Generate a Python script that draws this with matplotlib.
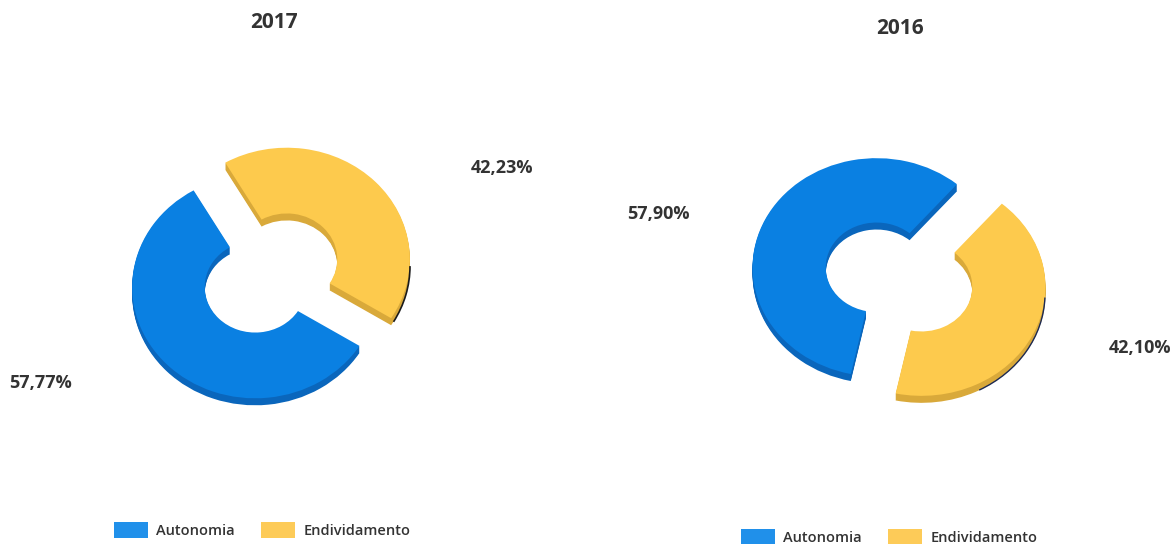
"""Exploded 3D-look donuts: Autonomia vs Endividamento"""
import matplotlib

matplotlib.use("Agg")
import matplotlib.pyplot as plt
from matplotlib.patches import Arc

WIDTH_PX = 1174
HEIGHT_PX = 544

categories = ["Autonomia", "Endividamento"]
years = ["2017", "2016"]
values_2017 = [57.77, 42.23]
values_2016 = [57.90, 42.10]
labels_2017 = ["57,77%", "42,23%"]
labels_2016 = ["57,90%", "42,10%"]

TOP_COLORS = ["#0a80e2", "#fdca4d"]
SIDE_COLORS = ["#0a66bc", "#d9a93a"]
LEGEND_COLORS = ["#2090ea", "#fdcb58"]
TEXT_COLOR = "#333333"

plt.rcParams["font.family"] = ["Open Sans", "DejaVu Sans"]


def fig_xy(x_px, y_px):
    """Pixel position in the picture to figure fraction."""
    return x_px / WIDTH_PX, 1 - y_px / HEIGHT_PX


def draw_donut(fig, values, centre, radius, squash, startangle, explode, depth):
    """Draws one tilted donut on a full-figure axes, returns the axes."""
    cx, cy = centre
    ax = fig.add_axes([0, 0, 1, 1])
    ax.patch.set_alpha(0)

    # stacked copies going down make the side walls
    for offset in range(depth, -1, -1):
        wedges, _ = ax.pie(
            values,
            center=(0, -offset / squash),
            radius=radius,
            startangle=startangle,
            counterclock=False,
            explode=[explode, explode],
            colors=TOP_COLORS if offset == 0 else SIDE_COLORS,
            wedgeprops={"width": radius * 0.59, "linewidth": 0},
        )

    ax.set_aspect("auto")
    ax.set_xlim(-cx, WIDTH_PX - cx)
    ax.set_ylim((cy - HEIGHT_PX) / squash, cy / squash)
    ax.axis("off")
    return ax, wedges


def add_legend(fig, wedges, x_px, y_px):
    legend = fig.legend(
        wedges,
        categories,
        loc="center",
        bbox_to_anchor=fig_xy(x_px, y_px),
        ncols=2,
        frameon=False,
        fontsize=10.5,
        handlelength=2.35,
        handleheight=1.3,
        handletextpad=0.55,
        columnspacing=1.8,
        borderpad=0,
    )
    for text in legend.get_texts():
        text.set_color(TEXT_COLOR)
        text.set_fontweight("semibold")
    for handle, color in zip(legend.legend_handles, LEGEND_COLORS):
        handle.set_facecolor(color)


def add_text(fig, x_px, y_px, string, size):
    x_frac, y_frac = fig_xy(x_px, y_px)
    fig.text(
        x_frac,
        y_frac,
        string,
        ha="center",
        va="center",
        fontsize=size,
        fontweight="bold",
        color=TEXT_COLOR,
    )


fig = plt.figure(figsize=(WIDTH_PX / 100, HEIGHT_PX / 100), dpi=100, facecolor="white")

# 2017
ax_left, wedges_left = draw_donut(
    fig, values_2017, (271, 273), 123, 0.906, -32, 22, 7
)
ax_left.add_patch(
    Arc((16, 7.6), 2 * 123, 2 * 123, theta1=-30, theta2=0, color="#1a1a1a", lw=1.2)
)
add_text(fig, 274, 22, years[0], 15)
add_text(fig, 41, 383, labels_2017[0], 13)
add_text(fig, 502, 168, labels_2017[1], 13)
add_legend(fig, wedges_left, 262, 530)

# 2016
ax_right, wedges_right = draw_donut(
    fig, values_2016, (899, 277), 124, 0.88, -102, 25, 7
)
ax_right.add_patch(
    Arc((22, -19), 2 * 124, 2 * 124, theta1=-62, theta2=-2, color="#1c2a55", lw=1)
)
add_text(fig, 900, 29, years[1], 15)
add_text(fig, 658, 214, labels_2016[0], 13)
add_text(fig, 1140, 348, labels_2016[1], 13)
add_legend(fig, wedges_right, 889, 537)

fig.savefig("out.png", dpi=100)
